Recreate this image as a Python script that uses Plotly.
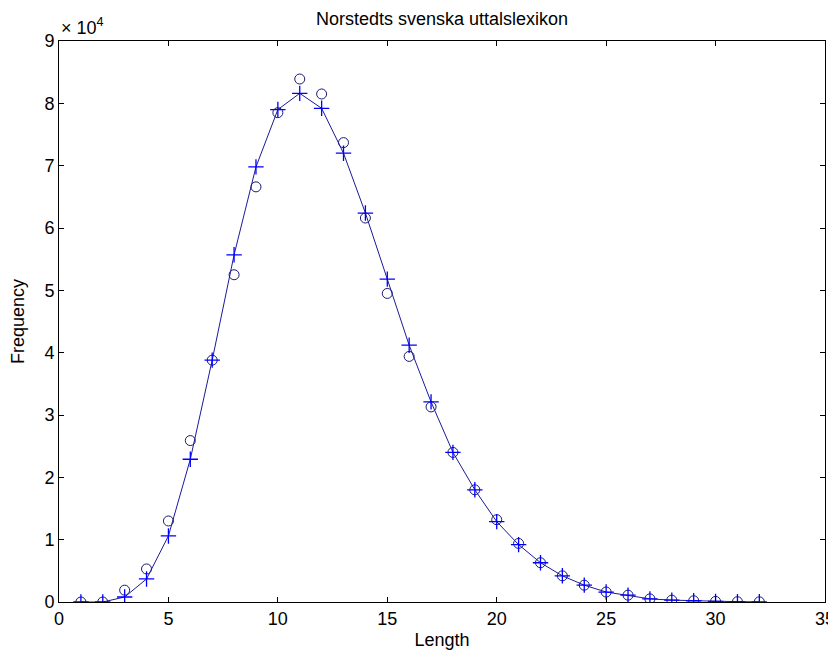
import plotly.graph_objects as go

length = list(range(1, 33))
observed = [0.00, 0.00, 0.19, 0.53, 1.30, 2.59, 3.88, 5.25, 6.66, 7.85, 8.39, 8.15,
            7.37, 6.16, 4.95, 3.94, 3.13, 2.40, 1.80, 1.32, 0.94, 0.63, 0.42, 0.27,
            0.16, 0.11, 0.05, 0.03, 0.02, 0.01, 0.005, 0.003]
model = [0.00, 0.00, 0.08, 0.37, 1.06, 2.29, 3.88, 5.57, 6.98, 7.90, 8.16, 7.92,
         7.20, 6.24, 5.18, 4.12, 3.21, 2.40, 1.80, 1.29, 0.92, 0.63, 0.42, 0.27,
         0.16, 0.11, 0.05, 0.03, 0.02, 0.01, 0.005, 0.003]
scale = 1e4
x_ticks = [0, 5, 10, 15, 20, 25, 30, 35]
y_ticks = [0, 1, 2, 3, 4, 5, 6, 7, 8, 9]

font = "Liberation Sans, Arial, sans-serif"
fs = 18

fig = go.Figure()
fig.add_trace(go.Scatter(
    x=length, y=[v * scale for v in observed], mode="markers",
    marker=dict(symbol="circle-open", size=10, color="#1a1a70", line=dict(width=1, color="#1a1a70")),
    showlegend=False))
fig.add_trace(go.Scatter(
    x=length, y=[v * scale for v in model], mode="lines+markers",
    line=dict(color="#1a1a9a", width=1),
    marker=dict(symbol="cross-thin-open", size=11, color="#0000ff", line=dict(width=1.3, color="#0000ff")),
    showlegend=False))

axis_common = dict(showline=True, linecolor="black", linewidth=1, mirror="ticks",
                   ticks="inside", ticklen=5, tickcolor="black", showgrid=False,
                   zeroline=False, automargin=False,
                   tickfont=dict(family=font, size=fs, color="black"))

fig.update_layout(
    width=828, height=642,
    margin=dict(l=51, r=11, t=33, b=48),
    paper_bgcolor="white", plot_bgcolor="white",
    title=dict(text="Norstedts svenska uttalslexikon", x=0.5, xref="paper", xanchor="center",
               y=1, yref="paper", yanchor="bottom", pad=dict(b=16),
               font=dict(family=font, size=fs, color="black")),
    xaxis=dict(range=[0, 35], tickvals=x_ticks, ticktext=[str(t) for t in x_ticks],
               title=dict(text="Length", font=dict(family=font, size=fs, color="black"), standoff=6),
               **axis_common),
    yaxis=dict(range=[0, 9 * scale], tickvals=[t * scale for t in y_ticks],
               ticktext=[str(t) for t in y_ticks],
               title=dict(text="Frequency", font=dict(family=font, size=fs, color="black"), standoff=17),
               **axis_common),
    annotations=[dict(text="× 10<sup>4</sup>", x=0, y=1, xref="paper", yref="paper",
                      xanchor="left", yanchor="bottom", yshift=1, showarrow=False,
                      font=dict(family=font, size=fs, color="black"))],
)

fig.write_html("out.html")
